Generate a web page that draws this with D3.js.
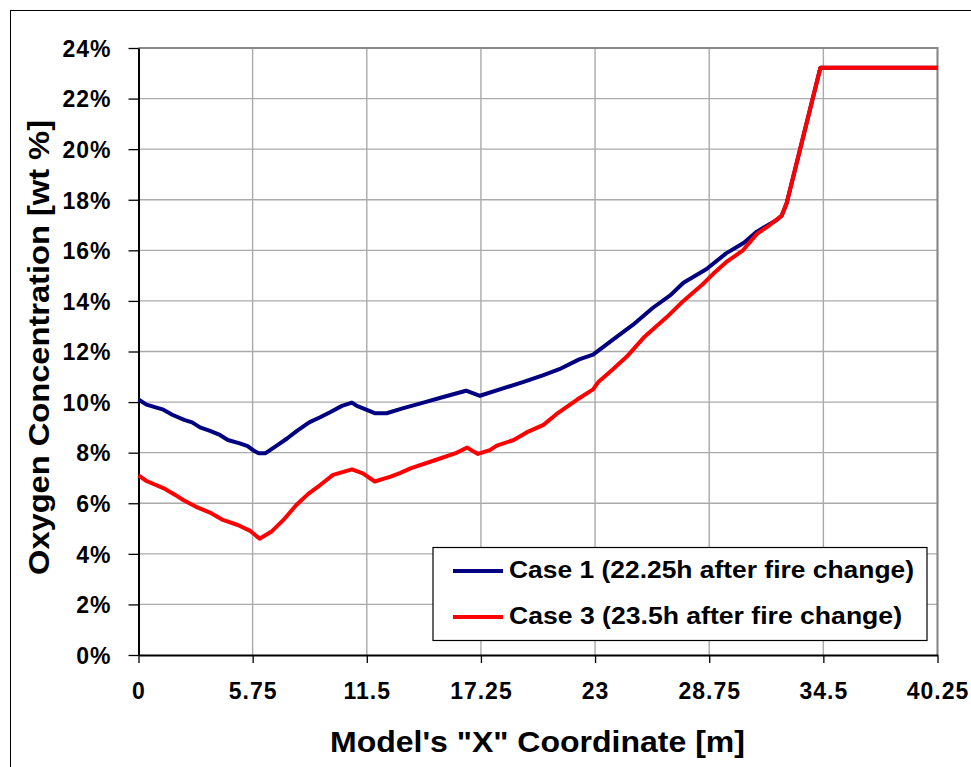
<!DOCTYPE html>
<html><head><meta charset="utf-8">
<script src="https://cdn.jsdelivr.net/npm/d3@7"></script>
<style>body{margin:0;background:#fff}svg{display:block}</style>
</head><body>
<script>
const xTicks = [0, 5.75, 11.5, 17.25, 23, 28.75, 34.5, 40.25];
const yTicks = [0, 2, 4, 6, 8, 10, 12, 14, 16, 18, 20, 22, 24];
const seriesNames = ["Case 1 (22.25h after fire change)", "Case 3 (23.5h after fire change)"];
const case1X = [0,0.4,1.25,1.7,2.3,2.7,3.1,3.6,4.1,4.5,5.1,5.5,5.8,6.05,6.4,7.0,7.5,8.0,8.6,9.15,9.65,10.25,10.75,11.0,11.5,11.9,12.5,13.3,14.35,15.35,16.5,17.2,18.4,19.4,20.4,21.2,22.2,22.9,23.9,24.9,25.9,26.8,27.45,28.6,29.6,30.5,31.15,32.15,32.4,32.65,34.35,40.25];
const case1Y = [10.1,9.9,9.7,9.5,9.3,9.2,9.0,8.86,8.7,8.5,8.37,8.26,8.08,7.98,7.98,8.3,8.57,8.87,9.2,9.4,9.6,9.85,9.98,9.85,9.69,9.56,9.56,9.75,9.98,10.2,10.45,10.25,10.55,10.8,11.07,11.3,11.69,11.88,12.47,13.05,13.72,14.23,14.72,15.25,15.88,16.3,16.74,17.2,17.37,17.86,23.22,23.22];
const case3X = [0,0.4,1.25,1.85,2.25,2.9,3.6,4.25,5.0,5.6,6.1,6.7,7.3,7.95,8.55,9.15,9.8,10.75,11.3,11.9,12.7,13.2,13.7,15.0,15.95,16.55,17.1,17.7,18.05,18.9,19.55,20.4,21.05,22.1,22.9,23.15,23.9,24.6,25.45,26.6,27.45,28.45,28.95,29.6,30.45,31.15,31.8,32.4,32.65,34.35,40.25];
const case3Y = [7.1,6.88,6.6,6.33,6.13,5.86,5.63,5.34,5.14,4.92,4.6,4.88,5.34,5.93,6.37,6.72,7.12,7.34,7.18,6.86,7.05,7.2,7.38,7.72,7.97,8.2,7.95,8.1,8.28,8.5,8.8,9.1,9.52,10.1,10.5,10.78,11.3,11.8,12.55,13.35,14.0,14.68,15.07,15.53,16.0,16.65,17.0,17.37,17.86,23.22,23.22];
const colors = ["#000080", "#ff0000"];

const W = 971, H = 767;
const pL = 138.5, pR = 937.5, pT = 48, pB = 655;
const svg = d3.select("body").append("svg").attr("width", W).attr("height", H);
const font = "'Liberation Sans', Arial, sans-serif";

svg.append("rect").attr("x", 10.5).attr("y", 10.5).attr("width", 1000).attr("height", 1000)
  .attr("fill", "none").attr("stroke", "#000").attr("stroke-width", 1);

const x = d3.scaleLinear().domain([0, 40.25]).range([pL, pR]);
const y = d3.scaleLinear().domain([0, 24]).range([pB, pT]);

svg.append("g").selectAll("line").data(xTicks.slice(1)).join("line")
  .attr("x1", d => x(d)).attr("x2", d => x(d)).attr("y1", pT).attr("y2", pB)
  .attr("stroke", "#aaaaaa").attr("stroke-width", 1.4);
svg.append("g").selectAll("line").data(yTicks.slice(1)).join("line")
  .attr("x1", pL).attr("x2", pR).attr("y1", d => y(d)).attr("y2", d => y(d))
  .attr("stroke", "#aaaaaa").attr("stroke-width", 1.4);
svg.append("path").attr("d", `M${pL},${pT}H${pR}V${pB}`).attr("fill", "none")
  .attr("stroke", "#888").attr("stroke-width", 2);

const xAxis = svg.append("g").attr("transform", `translate(0,${pB})`)
  .call(d3.axisBottom(x).tickValues(xTicks).tickFormat(d => String(d)).tickSizeInner(8).tickSizeOuter(0).tickPadding(20));
const yAxis = svg.append("g").attr("transform", `translate(${pL},0)`)
  .call(d3.axisLeft(y).tickValues(yTicks).tickFormat(d => d + "%").tickSizeInner(10).tickSizeOuter(0).tickPadding(17));
[xAxis, yAxis].forEach(a => {
  a.select(".domain").attr("stroke", "#000").attr("stroke-width", 2);
  a.selectAll(".tick line").attr("stroke", "#000").attr("stroke-width", 1.3);
  a.selectAll("text").attr("font-family", font).attr("font-weight", "bold").attr("font-size", 23)
    .attr("letter-spacing", 1).attr("fill", "#000");
});
yAxis.selectAll("text").attr("dy", "0.36em");

const line = d3.line().x(d => x(d[0])).y(d => y(d[1]));
const s1 = case1X.map((v, i) => [v, case1Y[i]]);
const s3 = case3X.map((v, i) => [v, case3Y[i]]);
[s1, s3].forEach((s, i) => {
  svg.append("path").datum(s).attr("d", line).attr("fill", "none")
    .attr("stroke", colors[i]).attr("stroke-width", 4).attr("stroke-linejoin", "round");
});

svg.append("text").attr("x", 537.5).attr("y", 752).attr("text-anchor", "middle")
  .attr("font-family", font).attr("font-weight", "bold").attr("font-size", 30)
  .attr("textLength", 415).attr("lengthAdjust", "spacingAndGlyphs").text("Model's \"X\" Coordinate [m]");
svg.append("text").attr("transform", "translate(49,347.5) rotate(-90)").attr("text-anchor", "middle")
  .attr("font-family", font).attr("font-weight", "bold").attr("font-size", 30)
  .attr("textLength", 455).attr("lengthAdjust", "spacingAndGlyphs").text("Oxygen Concentration [wt %]");

const lg = svg.append("g");
lg.append("rect").attr("x", 433).attr("y", 547.5).attr("width", 494).attr("height", 93)
  .attr("fill", "#fff").attr("stroke", "#000").attr("stroke-width", 1.2);
seriesNames.forEach((n, i) => {
  const yy = 571 + i * 46;
  lg.append("line").attr("x1", 453).attr("x2", 503).attr("y1", yy).attr("y2", yy)
    .attr("stroke", colors[i]).attr("stroke-width", 4);
  lg.append("text").attr("x", 509).attr("y", yy + 7).attr("font-family", font).attr("font-weight", "bold")
    .attr("font-size", 23).attr("textLength", i === 0 ? 405 : 393).attr("lengthAdjust", "spacingAndGlyphs").text(n);
});
</script>
</body></html>
